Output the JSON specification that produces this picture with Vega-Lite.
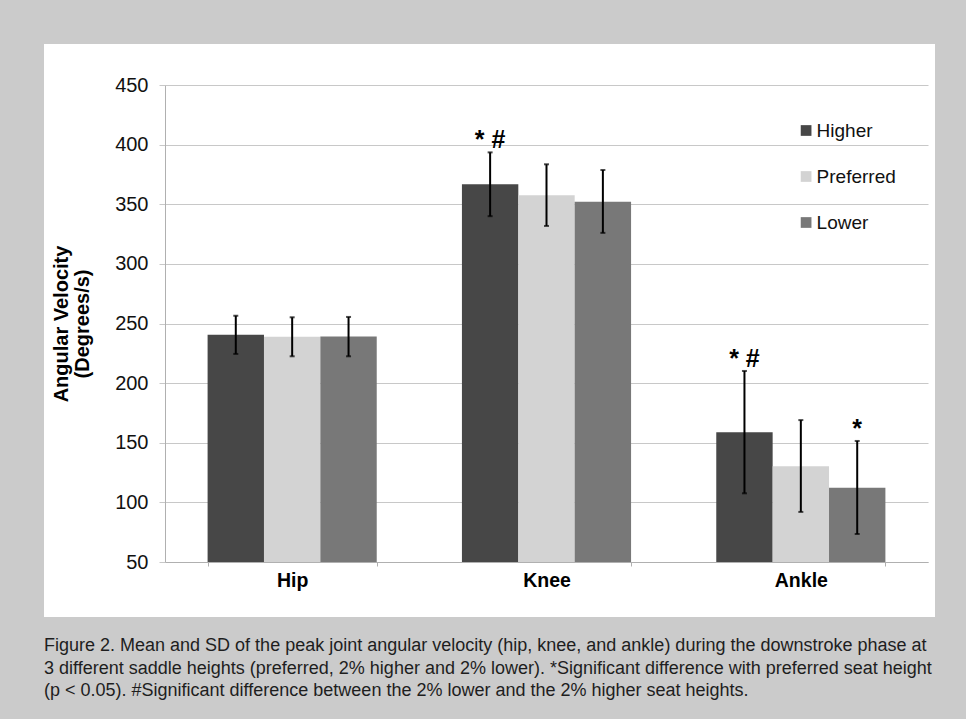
{
  "$schema": "https://vega.github.io/schema/vega-lite/v6.json",
  "width": 891,
  "height": 573,
  "autosize": {"type": "none"},
  "padding": {"left": 44, "top": 44, "right": 31, "bottom": 102},
  "background": "#cbcbcb",
  "config": {
    "view": {"fill": "white", "stroke": null},
    "font": "Liberation Sans",
    "axis": {"labelFont": "Liberation Sans", "titleFont": "Liberation Sans"},
    "legend": {"labelFont": "Liberation Sans"}
  },
  "title": {
    "text": [
      "Figure 2. Mean and SD of the peak joint angular velocity (hip, knee, and ankle) during the downstroke phase at",
      "3 different saddle heights (preferred, 2% higher and 2% lower). *Significant difference with preferred seat height",
      "(p < 0.05). #Significant difference between the 2% lower and the 2% higher seat heights."
    ],
    "orient": "bottom",
    "anchor": "start",
    "frame": "group",
    "offset": 20,
    "font": "Liberation Sans",
    "fontSize": 18,
    "fontWeight": "normal",
    "color": "#1e1e1e",
    "lineHeight": 22.5
  },
  "data": {
    "values": [
      {"joint": "Hip", "height": "Higher", "mean": 240.5, "lo": 224.5, "hi": 256.5, "sig": ""},
      {"joint": "Hip", "height": "Preferred", "mean": 238.8, "lo": 222.5, "hi": 255.2, "sig": ""},
      {"joint": "Hip", "height": "Lower", "mean": 239.0, "lo": 222.5, "hi": 255.5, "sig": ""},
      {"joint": "Knee", "height": "Higher", "mean": 366.7, "lo": 340.0, "hi": 393.5, "sig": "* #"},
      {"joint": "Knee", "height": "Preferred", "mean": 357.5, "lo": 331.8, "hi": 383.5, "sig": ""},
      {"joint": "Knee", "height": "Lower", "mean": 352.0, "lo": 326.0, "hi": 378.7, "sig": ""},
      {"joint": "Ankle", "height": "Higher", "mean": 158.8, "lo": 107.6, "hi": 210.2, "sig": "* #"},
      {"joint": "Ankle", "height": "Preferred", "mean": 130.2, "lo": 92.0, "hi": 169.0, "sig": ""},
      {"joint": "Ankle", "height": "Lower", "mean": 112.3, "lo": 73.5, "hi": 151.5, "sig": "*"}
    ]
  },
  "encoding": {
    "x": {
      "field": "joint",
      "type": "nominal",
      "sort": ["Hip", "Knee", "Ankle"],
      "scale": {"range": [121, 884], "paddingInner": 0.335, "paddingOuter": 0.1675},
      "axis": {
        "title": null,
        "offset": -55,
        "labelAngle": 0,
        "labelFontSize": 19.5,
        "labelFontWeight": "bold",
        "labelColor": "#000000",
        "labelPadding": 5,
        "domainColor": "#b0b0b0",
        "tickColor": "#b0b0b0",
        "tickSize": 4,
        "tickBand": "extent",
        "tickOffset": -42.6
      }
    },
    "xOffset": {
      "field": "height",
      "type": "nominal",
      "sort": ["Higher", "Preferred", "Lower"],
      "scale": {"paddingInner": 0, "paddingOuter": 0}
    }
  },
  "layer": [
    {
      "mark": {"type": "bar"},
      "encoding": {
        "y": {
          "field": "mean",
          "type": "quantitative",
          "scale": {"domain": [50, 450], "range": [518, 41], "nice": false, "zero": false},
          "axis": {
            "title": ["Angular Velocity", "(Degrees/s)"],
            "titleFontSize": 20,
            "titleFontWeight": "bold",
            "titleColor": "#000000",
            "titleLineHeight": 21,
            "titlePadding": 22,
            "offset": -121,
            "values": [50, 100, 150, 200, 250, 300, 350, 400, 450],
            "labelFontSize": 20,
            "labelColor": "#111111",
            "labelPadding": 11,
            "domainColor": "#b0b0b0",
            "tickColor": "#c8c8c8",
            "tickSize": 6,
            "gridColor": "#c8c8c8",
            "gridWidth": 1
          }
        },
        "y2": {"datum": 50},
        "color": {
          "field": "height",
          "type": "nominal",
          "sort": ["Higher", "Preferred", "Lower"],
          "scale": {"domain": ["Higher", "Preferred", "Lower"], "range": ["#474747", "#d3d3d3", "#787878"]},
          "legend": {
            "title": null,
            "orient": "none",
            "legendX": 752.6,
            "legendY": 77,
            "padding": 0,
            "rowPadding": 26,
            "labelFontSize": 19,
            "labelColor": "#111111",
            "labelOffset": 1,
            "symbolType": "square",
            "symbolSize": 115,
            "symbolStrokeWidth": 0
          }
        }
      }
    },
    {
      "mark": {"type": "rule", "color": "#000000", "strokeWidth": 2},
      "encoding": {
        "y": {"field": "lo", "type": "quantitative"},
        "y2": {"field": "hi"}
      }
    },
    {
      "mark": {"type": "tick", "color": "#000000", "thickness": 2, "size": 5},
      "encoding": {"y": {"field": "lo", "type": "quantitative"}}
    },
    {
      "mark": {"type": "tick", "color": "#000000", "thickness": 2, "size": 5},
      "encoding": {"y": {"field": "hi", "type": "quantitative"}}
    },
    {
      "mark": {"type": "text", "font": "Liberation Sans", "fontSize": 25, "fontWeight": "bold", "color": "#000000", "baseline": "alphabetic", "dy": -4},
      "encoding": {
        "y": {"field": "hi", "type": "quantitative"},
        "text": {"field": "sig"}
      }
    }
  ]
}
